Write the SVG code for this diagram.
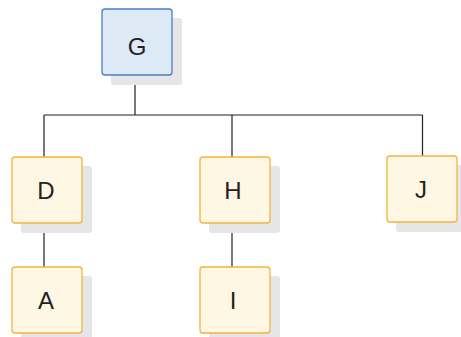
<svg xmlns="http://www.w3.org/2000/svg" width="461" height="337" viewBox="0 0 461 337">
<style>
.sh{fill:#e6e6e8}
.b{fill:#ddeaf6;stroke:#4a7fc0;stroke-width:1.3}
.o{fill:#fef7e4;stroke:#f3b43f;stroke-width:1.3}
.t{font-family:"Liberation Sans",Arial,sans-serif;font-size:24px;fill:#222;text-anchor:middle;dominant-baseline:central}
.c{fill:none;stroke:#222;stroke-width:1.2}
</style>
<rect width="461" height="337" fill="#ffffff"/>
<g id="connectors">
<path class="c" d="M135 75V115M44 115H422.5M44 115V157M232 115V157M422.5 115V156M44 223V267M232 223V267"/>
</g>
<g id="G">
<rect class="sh" x="111" y="18" width="71" height="67" rx="3"/>
<rect class="b" x="102" y="9" width="70" height="66" rx="3"/>
<text class="t" x="137" y="46">G</text>
</g>
<g id="D">
<rect class="sh" x="21" y="166" width="71" height="67" rx="3"/>
<rect class="o" x="12" y="157" width="70" height="66" rx="3"/>
<text class="t" x="46" y="190.5">D</text>
</g>
<g id="H">
<rect class="sh" x="209" y="166" width="71" height="67" rx="3"/>
<rect class="o" x="200" y="157" width="70" height="66" rx="3"/>
<text class="t" x="233" y="190.5">H</text>
</g>
<g id="J">
<rect class="sh" x="396" y="165" width="71" height="67" rx="3"/>
<rect class="o" x="387" y="156" width="70" height="66" rx="3"/>
<text class="t" x="421" y="189.5">J</text>
</g>
<g id="A">
<rect class="sh" x="21" y="276" width="71" height="67" rx="3"/>
<rect class="o" x="12" y="267" width="70" height="66" rx="3"/>
<text class="t" x="46" y="300.5">A</text>
</g>
<g id="I">
<rect class="sh" x="209" y="276" width="71" height="67" rx="3"/>
<rect class="o" x="200" y="267" width="70" height="66" rx="3"/>
<text class="t" x="233" y="300.5">I</text>
</g>
</svg>
